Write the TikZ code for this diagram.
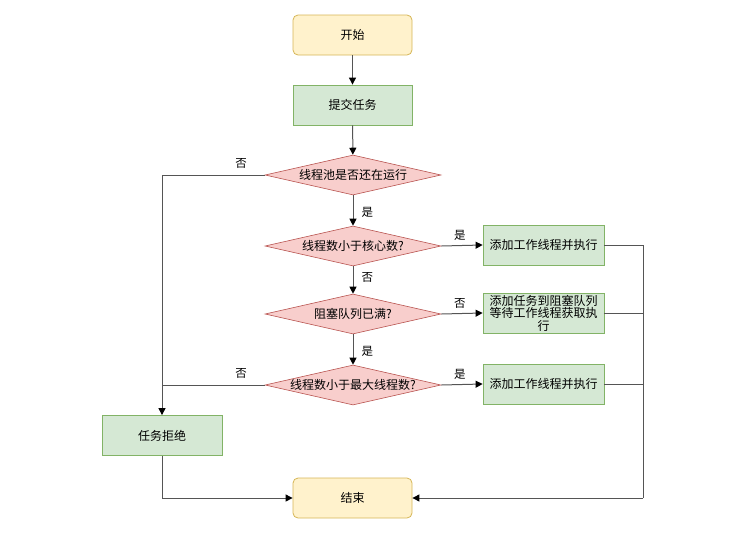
\documentclass[tikz,border=0pt]{standalone}
\usepackage{fontspec}
\setmainfont{Noto Sans CJK SC}
\usetikzlibrary{shapes.geometric,arrows.meta}
\definecolor{yfill}{HTML}{FFF2CC}
\definecolor{ydraw}{HTML}{D6B656}
\definecolor{gfill}{HTML}{D5E8D4}
\definecolor{gdraw}{HTML}{82B366}
\definecolor{rfill}{HTML}{F8CECC}
\definecolor{rdraw}{HTML}{B85450}
\definecolor{lcol}{HTML}{555555}
\tikzset{
  base/.style={font=\fontsize{12}{13.5}\selectfont, inner sep=0pt, align=center},
  term/.style={base, draw=ydraw, fill=yfill, rounded corners=5pt, minimum width=119pt, minimum height=40pt, line width=0.8pt},
  proc/.style={base, draw=gdraw, fill=gfill, minimum width=119pt, minimum height=40pt, line width=0.8pt},
  rproc/.style={base, draw=gdraw, fill=gfill, minimum width=121pt, minimum height=40pt, line width=0.8pt, text width=118pt},
  dec/.style={base, draw=rdraw, fill=rfill, diamond, aspect=4.4, minimum width=176pt, minimum height=40pt, inner sep=0pt, line width=0.6pt},
  conn/.style={draw=lcol, line width=1pt, -{Triangle[length=7pt,width=7pt,color=black]}},
  plain/.style={draw=lcol, line width=1pt},
  lbl/.style={font=\fontsize{11.5}{12}\selectfont, inner sep=0pt},
}
\begin{document}
\begin{tikzpicture}[x=1pt,y=-1pt]
\useasboundingbox (0,0) rectangle (754,549);
\node[term] (start) at (352.5,35) {开始};
\node[proc] (submit) at (352.5,105) {提交任务};
\node[dec] (d1) at (353,175) {线程池是否还在运行};
\node[dec] (d2) at (353,246) {线程数小于核心数?};
\node[dec] (d3) at (353,314) {阻塞队列已满?};
\node[dec] (d4) at (353,385) {线程数小于最大线程数?};
\node[proc, minimum width=121pt] (b1) at (543.5,245) {添加工作线程并执行};
\node[rproc, font=\fontsize{12}{12.5}\selectfont] (b2) at (543.5,313) {添加任务到阻塞队列\\等待工作线程获取执\\行};
\node[proc, minimum width=121pt] (b3) at (543.5,384) {添加工作线程并执行};
\node[proc, minimum width=120pt] (reject) at (162,435.5) {任务拒绝};
\node[term] (end) at (352.5,498) {结束};

\coordinate (lt) at (162,175);
\coordinate (lm) at (162,385);
\coordinate (rc) at (643,498);
\coordinate (rb) at (162,498);

\draw[conn] (start) -- (submit);
\draw[conn] (submit) -- (d1);
\draw[conn] (d1) -- node[lbl, right=8pt, pos=0.55] {是} (d2);
\draw[conn] (d2) -- node[lbl, right=8pt, pos=0.4] {否} (d3);
\draw[conn] (d3) -- node[lbl, right=8pt, pos=0.55] {是} (d4);
\draw[conn] (d2.east) -- node[lbl, above=5pt, pos=0.45] {是} (b1.west);
\draw[conn] (d3.east) -- node[lbl, above=5pt, pos=0.45] {否} (b2.west);
\draw[conn] (d4.east) -- node[lbl, above=5pt, pos=0.45] {是} (b3.west);
\draw[conn] (d1.west) -- node[lbl, above=6pt, pos=0.23] {否} (lt) -- (reject.north);
\draw[plain] (d4.west) -- node[lbl, above=6pt, pos=0.23] {否} (lm);
\draw[plain] (b1.east) -| (rc);
\draw[plain] (b2.east) -- (b2.east -| rc);
\draw[plain] (b3.east) -- (b3.east -| rc);
\draw[conn] (rc) -- (end.east);
\draw[conn] (reject.south) -- (rb) -- (end.west);
\end{tikzpicture}
\end{document}
